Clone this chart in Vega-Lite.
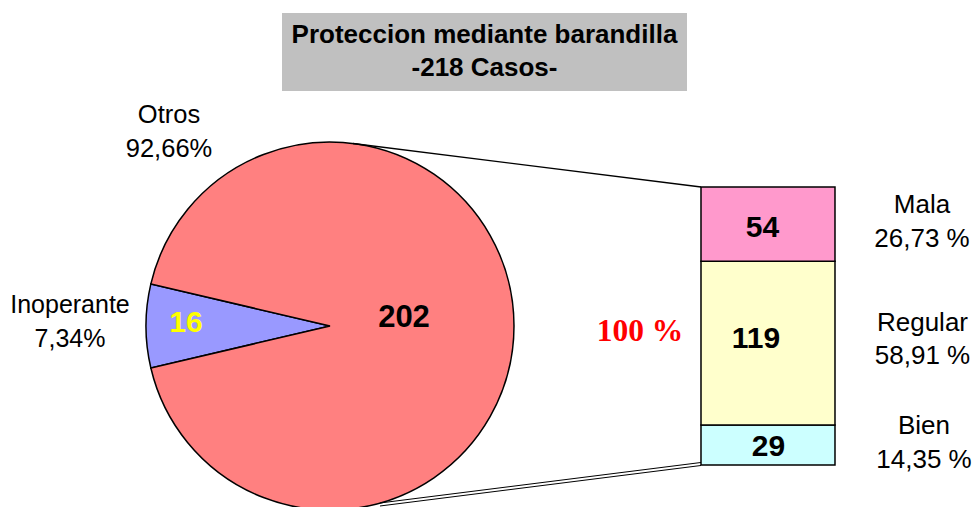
{
  "$schema": "https://vega.github.io/schema/vega-lite/v6.json",
  "width": 973,
  "height": 507,
  "padding": 0,
  "autosize": {"type": "none"},
  "background": "white",
  "config": {"view": {"stroke": null}, "text": {"font": "Liberation Sans"}, "scale": {"continuousPadding": 0}},
  "datasets": {
    "pie": [
      {"cat": "Inoperante", "n": 16, "orden": 1, "etiqueta": "Inoperante\n7,34%"},
      {"cat": "Otros", "n": 202, "orden": 2, "etiqueta": "Otros\n92,66%"}
    ],
    "barra": [
      {"cat": "Bien", "n": 29, "orden": 1, "etiqueta": "Bien\n14,35 %"},
      {"cat": "Regular", "n": 119, "orden": 2, "etiqueta": "Regular\n58,91 %"},
      {"cat": "Mala", "n": 54, "orden": 3, "etiqueta": "Mala\n26,73 %"}
    ],
    "titulo": [{"linea": 1, "t": "Proteccion mediante barandilla"}, {"linea": 2, "t": "-218 Casos-"}],
    "total": [{"t": "100 %"}]
  },
  "layer": [
    {
      "data": {"name": "total"},
      "mark": {"type": "rect", "fill": "#C0C0C0"},
      "encoding": {
        "x": {"datum": 204.91, "type": "quantitative", "scale": {"domain": [0, 707.0], "nice": false, "zero": false, "padding": 0}, "axis": null},
        "x2": {"datum": 499.19},
        "y": {"datum": 328.43, "type": "quantitative", "scale": {"domain": [-30.52, 337.88], "nice": false, "zero": false, "padding": 0}, "axis": null},
        "y2": {"datum": 271.75}
      }
    },
    {
      "data": {"name": "titulo"},
      "transform": [{"filter": "datum.linea == 1"}],
      "mark": {"type": "text", "fontWeight": "bold", "fontSize": 26, "align": "center", "baseline": "middle", "color": "black"},
      "encoding": {
        "text": {"field": "t"},
        "x": {"datum": 352.05, "type": "quantitative", "scale": {"domain": [0, 707.0], "nice": false, "zero": false, "padding": 0}, "axis": null},
        "y": {"datum": 312.5, "type": "quantitative", "scale": {"domain": [-30.52, 337.88], "nice": false, "zero": false, "padding": 0}, "axis": null}
      }
    },
    {
      "data": {"name": "titulo"},
      "transform": [{"filter": "datum.linea == 2"}],
      "mark": {"type": "text", "fontWeight": "bold", "fontSize": 26, "align": "center", "baseline": "middle", "color": "black"},
      "encoding": {
        "text": {"field": "t"},
        "x": {"datum": 352.05, "type": "quantitative", "scale": {"domain": [0, 707.0], "nice": false, "zero": false, "padding": 0}, "axis": null},
        "y": {"datum": 288.4, "type": "quantitative", "scale": {"domain": [-30.52, 337.88], "nice": false, "zero": false, "padding": 0}, "axis": null}
      }
    },
    {
      "data": {"name": "pie"},
      "mark": {"type": "arc", "outerRadius": 184, "stroke": "black", "strokeWidth": 1.5},
      "encoding": {
        "theta": {"field": "n", "type": "quantitative", "stack": true, "scale": {"domain": [0, 218], "nice": false, "range": [4.48187, 10.76506]}},
        "order": {"field": "orden", "type": "quantitative"},
        "color": {"field": "cat", "type": "nominal", "legend": null, "scale": {"domain": ["Otros", "Inoperante", "Mala", "Regular", "Bien"], "range": ["#FF8080", "#9999FF", "#FF99CC", "#FFFFCC", "#CCFFFF"]}},
        "x": {"datum": 239.78, "type": "quantitative", "scale": {"domain": [0, 707.0], "nice": false, "zero": false, "padding": 0}, "axis": null},
        "y": {"datum": 101.0, "type": "quantitative", "scale": {"domain": [-30.52, 337.88], "nice": false, "zero": false, "padding": 0}, "axis": null}
      }
    },
    {
      "data": {"name": "total"},
      "mark": {"type": "rule", "color": "black", "strokeWidth": 1.3},
      "encoding": {
        "x": {"datum": 256.5, "type": "quantitative", "scale": {"domain": [0, 707.0], "nice": false, "zero": false, "padding": 0}, "axis": null},
        "x2": {"datum": 509.37},
        "y": {"datum": 233.61, "type": "quantitative", "scale": {"domain": [-30.52, 337.88], "nice": false, "zero": false, "padding": 0}, "axis": null},
        "y2": {"datum": 202.0}
      }
    },
    {
      "data": {"name": "total"},
      "mark": {"type": "rule", "color": "black", "strokeWidth": 1},
      "encoding": {
        "x": {"datum": 276.11, "type": "quantitative", "scale": {"domain": [0, 707.0], "nice": false, "zero": false, "padding": 0}, "axis": null},
        "x2": {"datum": 509.37},
        "y": {"datum": -27.61, "type": "quantitative", "scale": {"domain": [-30.52, 337.88], "nice": false, "zero": false, "padding": 0}, "axis": null},
        "y2": {"datum": 1.82}
      }
    },
    {
      "data": {"name": "total"},
      "mark": {"type": "rule", "color": "black", "strokeWidth": 1},
      "encoding": {
        "x": {"datum": 276.11, "type": "quantitative", "scale": {"domain": [0, 707.0], "nice": false, "zero": false, "padding": 0}, "axis": null},
        "x2": {"datum": 509.37},
        "y": {"datum": -29.79, "type": "quantitative", "scale": {"domain": [-30.52, 337.88], "nice": false, "zero": false, "padding": 0}, "axis": null},
        "y2": {"datum": -0.36}
      }
    },
    {
      "data": {"name": "barra"},
      "mark": {"type": "bar", "orient": "vertical", "width": 134, "stroke": "black", "strokeWidth": 1.5},
      "encoding": {
        "x": {"datum": 558.04, "type": "quantitative", "scale": {"domain": [0, 707.0], "nice": false, "zero": false, "padding": 0}, "axis": null},
        "y": {"field": "n", "type": "quantitative", "stack": "zero", "scale": {"domain": [-30.52, 337.88], "nice": false, "zero": false, "padding": 0}, "axis": null},
        "order": {"field": "orden", "type": "quantitative"},
        "color": {"field": "cat", "type": "nominal", "legend": null, "scale": {"domain": ["Otros", "Inoperante", "Mala", "Regular", "Bien"], "range": ["#FF8080", "#9999FF", "#FF99CC", "#FFFFCC", "#CCFFFF"]}}
      }
    },
    {
      "data": {"name": "pie"},
      "transform": [{"filter": "datum.cat == 'Otros'"}],
      "mark": {"type": "text", "fontWeight": "bold", "fontSize": 31, "align": "center", "baseline": "middle", "color": "black"},
      "encoding": {
        "text": {"field": "n"},
        "x": {"datum": 293.55, "type": "quantitative", "scale": {"domain": [0, 707.0], "nice": false, "zero": false, "padding": 0}, "axis": null},
        "y": {"datum": 106.81, "type": "quantitative", "scale": {"domain": [-30.52, 337.88], "nice": false, "zero": false, "padding": 0}, "axis": null}
      }
    },
    {
      "data": {"name": "pie"},
      "transform": [{"filter": "datum.cat == 'Inoperante'"}],
      "mark": {"type": "text", "fontWeight": "bold", "fontSize": 30, "align": "center", "baseline": "middle", "color": "#FFFF00"},
      "encoding": {
        "text": {"field": "n"},
        "x": {"datum": 135.15, "type": "quantitative", "scale": {"domain": [0, 707.0], "nice": false, "zero": false, "padding": 0}, "axis": null},
        "y": {"datum": 103.0, "type": "quantitative", "scale": {"domain": [-30.52, 337.88], "nice": false, "zero": false, "padding": 0}, "axis": null}
      }
    },
    {
      "data": {"name": "pie"},
      "transform": [{"filter": "datum.cat == 'Otros'"}],
      "mark": {"type": "text", "fontSize": 25.5, "align": "center", "baseline": "middle", "color": "black", "lineBreak": "\n", "lineHeight": 34},
      "encoding": {
        "text": {"field": "etiqueta"},
        "x": {"datum": 122.8, "type": "quantitative", "scale": {"domain": [0, 707.0], "nice": false, "zero": false, "padding": 0}, "axis": null},
        "y": {"datum": 254.32, "type": "quantitative", "scale": {"domain": [-30.52, 337.88], "nice": false, "zero": false, "padding": 0}, "axis": null}
      }
    },
    {
      "data": {"name": "pie"},
      "transform": [{"filter": "datum.cat == 'Inoperante'"}],
      "mark": {"type": "text", "fontSize": 25, "align": "center", "baseline": "middle", "color": "black", "lineBreak": "\n", "lineHeight": 34},
      "encoding": {
        "text": {"field": "etiqueta"},
        "x": {"datum": 50.86, "type": "quantitative", "scale": {"domain": [0, 707.0], "nice": false, "zero": false, "padding": 0}, "axis": null},
        "y": {"datum": 116.26, "type": "quantitative", "scale": {"domain": [-30.52, 337.88], "nice": false, "zero": false, "padding": 0}, "axis": null}
      }
    },
    {
      "data": {"name": "total"},
      "mark": {"type": "text", "font": "Liberation Serif", "fontWeight": "bold", "fontSize": 31.5, "align": "center", "baseline": "middle", "color": "#FF0000"},
      "encoding": {
        "text": {"field": "t"},
        "x": {"datum": 465.03, "type": "quantitative", "scale": {"domain": [0, 707.0], "nice": false, "zero": false, "padding": 0}, "axis": null},
        "y": {"datum": 96.64, "type": "quantitative", "scale": {"domain": [-30.52, 337.88], "nice": false, "zero": false, "padding": 0}, "axis": null}
      }
    },
    {
      "data": {"name": "barra"},
      "transform": [{"filter": "datum.cat == 'Mala'"}],
      "mark": {"type": "text", "fontWeight": "bold", "fontSize": 30, "align": "center", "baseline": "middle", "color": "black"},
      "encoding": {
        "text": {"field": "n"},
        "x": {"datum": 554.05, "type": "quantitative", "scale": {"domain": [0, 707.0], "nice": false, "zero": false, "padding": 0}, "axis": null},
        "y": {"datum": 172.2, "type": "quantitative", "scale": {"domain": [-30.52, 337.88], "nice": false, "zero": false, "padding": 0}, "axis": null}
      }
    },
    {
      "data": {"name": "barra"},
      "transform": [{"filter": "datum.cat == 'Regular'"}],
      "mark": {"type": "text", "fontWeight": "bold", "fontSize": 30, "align": "center", "baseline": "middle", "color": "black"},
      "encoding": {
        "text": {"field": "n"},
        "x": {"datum": 549.32, "type": "quantitative", "scale": {"domain": [0, 707.0], "nice": false, "zero": false, "padding": 0}, "axis": null},
        "y": {"datum": 91.55, "type": "quantitative", "scale": {"domain": [-30.52, 337.88], "nice": false, "zero": false, "padding": 0}, "axis": null}
      }
    },
    {
      "data": {"name": "barra"},
      "transform": [{"filter": "datum.cat == 'Bien'"}],
      "mark": {"type": "text", "fontWeight": "bold", "fontSize": 30, "align": "center", "baseline": "middle", "color": "black"},
      "encoding": {
        "text": {"field": "n"},
        "x": {"datum": 558.4, "type": "quantitative", "scale": {"domain": [0, 707.0], "nice": false, "zero": false, "padding": 0}, "axis": null},
        "y": {"datum": 13.08, "type": "quantitative", "scale": {"domain": [-30.52, 337.88], "nice": false, "zero": false, "padding": 0}, "axis": null}
      }
    },
    {
      "data": {"name": "barra"},
      "transform": [{"filter": "datum.cat == 'Mala'"}],
      "mark": {"type": "text", "fontSize": 26, "align": "center", "baseline": "middle", "color": "black", "lineBreak": "\n", "lineHeight": 33.5},
      "encoding": {
        "text": {"field": "etiqueta"},
        "x": {"datum": 669.94, "type": "quantitative", "scale": {"domain": [0, 707.0], "nice": false, "zero": false, "padding": 0}, "axis": null},
        "y": {"datum": 188.92, "type": "quantitative", "scale": {"domain": [-30.52, 337.88], "nice": false, "zero": false, "padding": 0}, "axis": null}
      }
    },
    {
      "data": {"name": "barra"},
      "transform": [{"filter": "datum.cat == 'Regular'"}],
      "mark": {"type": "text", "fontSize": 26, "align": "center", "baseline": "middle", "color": "black", "lineBreak": "\n", "lineHeight": 33.5},
      "encoding": {
        "text": {"field": "etiqueta"},
        "x": {"datum": 670.3, "type": "quantitative", "scale": {"domain": [0, 707.0], "nice": false, "zero": false, "padding": 0}, "axis": null},
        "y": {"datum": 103.18, "type": "quantitative", "scale": {"domain": [-30.52, 337.88], "nice": false, "zero": false, "padding": 0}, "axis": null}
      }
    },
    {
      "data": {"name": "barra"},
      "transform": [{"filter": "datum.cat == 'Bien'"}],
      "mark": {"type": "text", "fontSize": 26, "align": "center", "baseline": "middle", "color": "black", "lineBreak": "\n", "lineHeight": 33.5},
      "encoding": {
        "text": {"field": "etiqueta"},
        "x": {"datum": 671.39, "type": "quantitative", "scale": {"domain": [0, 707.0], "nice": false, "zero": false, "padding": 0}, "axis": null},
        "y": {"datum": 28.33, "type": "quantitative", "scale": {"domain": [-30.52, 337.88], "nice": false, "zero": false, "padding": 0}, "axis": null}
      }
    }
  ]
}
